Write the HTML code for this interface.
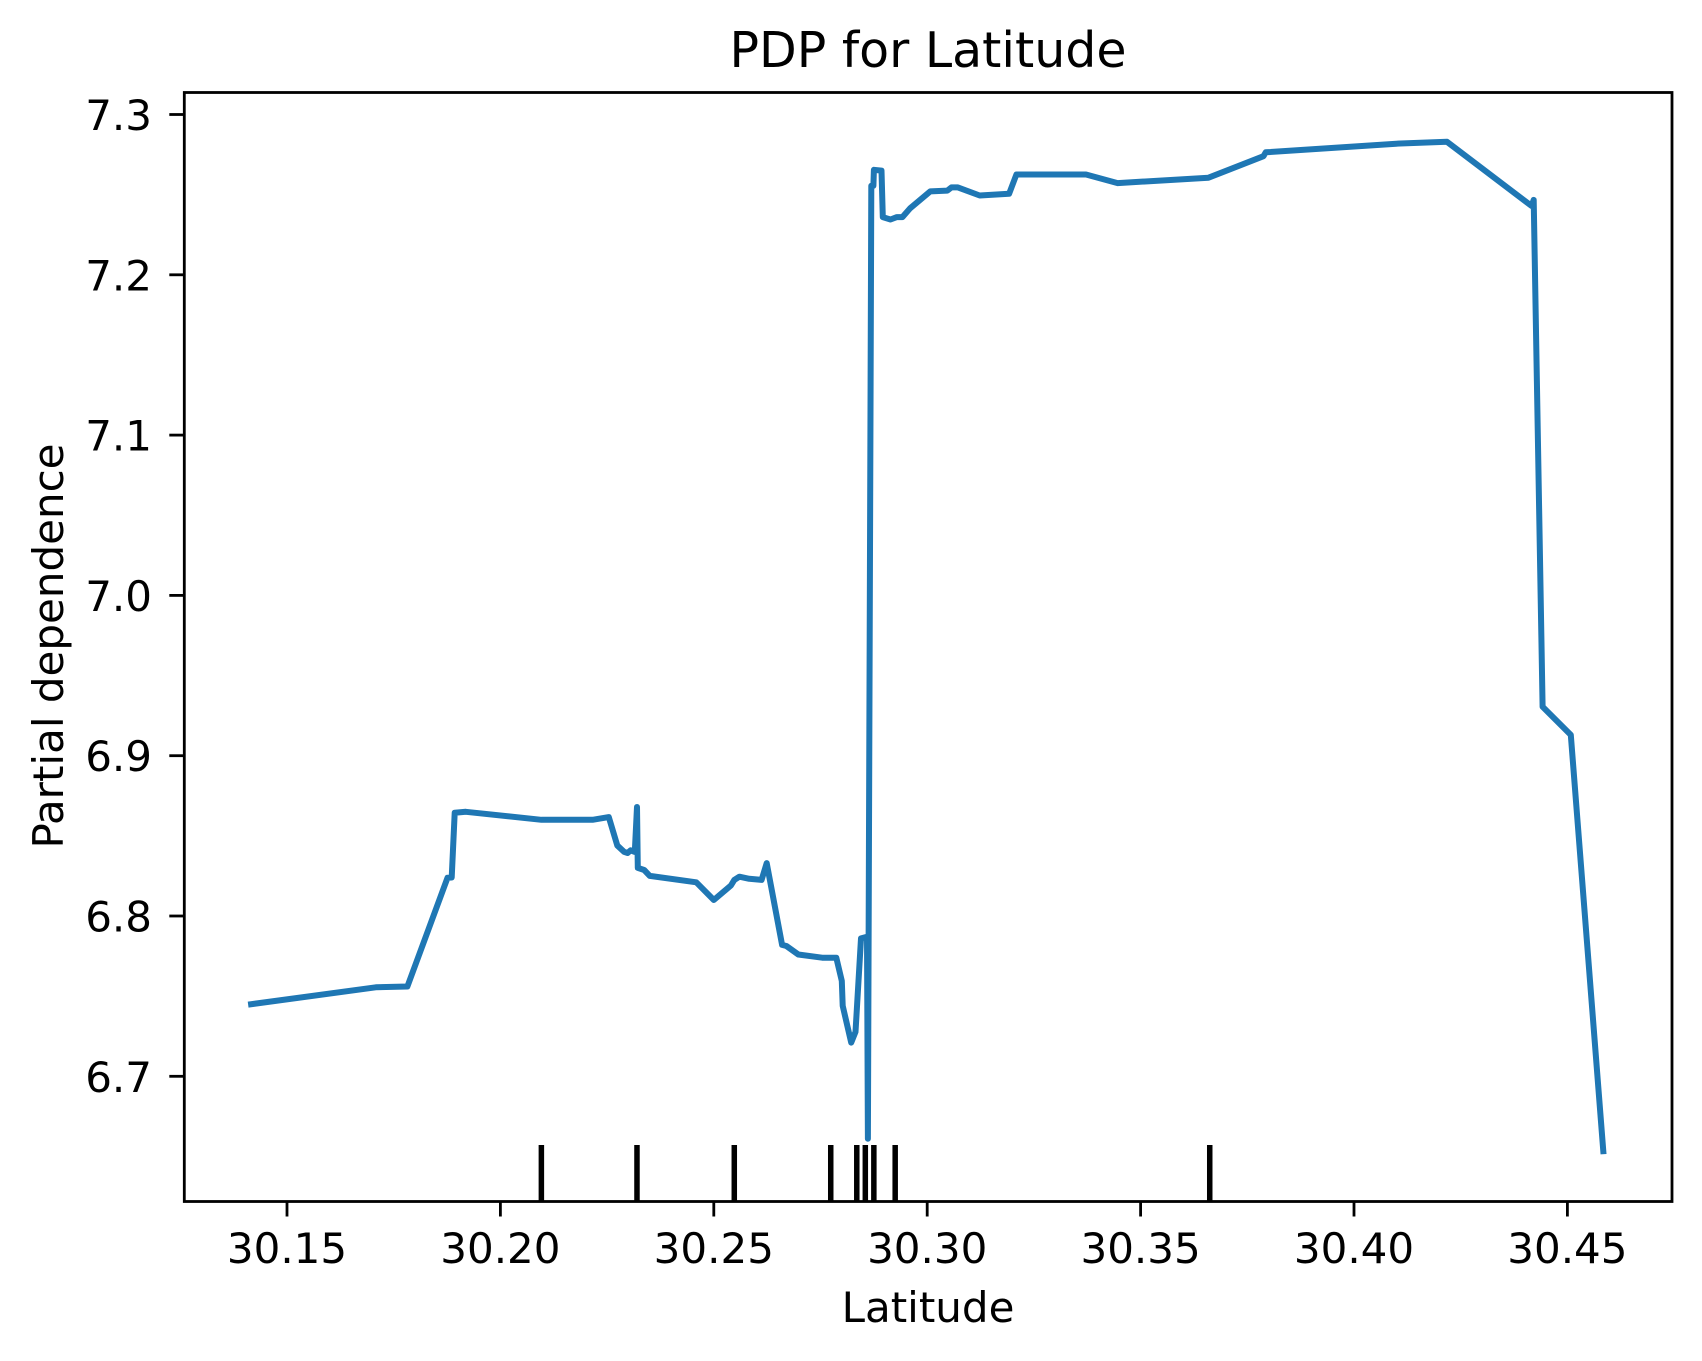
<!DOCTYPE html>
<html><head><meta charset="utf-8"><style>
html,body{margin:0;padding:0;background:#fff;}
svg{display:block;font-family:"DejaVu Sans","Liberation Sans",sans-serif;}
</style></head><body>
<svg id="chart" width="1702" height="1361" viewBox="0 0 1702 1361" xmlns="http://www.w3.org/2000/svg">
<rect width="1702" height="1361" fill="#fff"/>
<text x="928" y="67" font-size="49" text-anchor="middle">PDP for Latitude</text>
<text x="928" y="1322" font-size="42" text-anchor="middle">Latitude</text>
<text transform="translate(63,646) rotate(-90)" font-size="42" text-anchor="middle">Partial dependence</text>
<g id="plot"></g>
</svg>
<script>
const xs = [30.1416,30.1708,30.1782,30.1876,30.1886,30.1893,30.1919,30.2096,30.2216,30.2254,30.2274,30.229,30.2298,30.2305,30.2315,30.232,30.2322,30.2337,30.235,30.2459,30.25,30.254,30.2548,30.256,30.2583,30.2612,30.2624,30.266,30.267,30.2698,30.2754,30.2787,30.28,30.2802,30.2822,30.2832,30.2845,30.2859,30.2861,30.2869,30.2874,30.2875,30.2893,30.2896,30.2914,30.2929,30.2942,30.296,30.3007,30.3047,30.3057,30.3072,30.3123,30.3192,30.3209,30.3372,30.3446,30.3659,30.3788,30.3793,30.4099,30.4218,30.4416,30.4421,30.4442,30.4508,30.4584];
const ys = [6.745,6.7555,6.756,6.8238,6.824,6.8644,6.865,6.860,6.860,6.8617,6.844,6.840,6.8393,6.841,6.840,6.868,6.830,6.8287,6.825,6.821,6.81,6.819,6.8225,6.8245,6.8232,6.8225,6.833,6.782,6.7813,6.776,6.774,6.774,6.7595,6.744,6.721,6.7277,6.786,6.787,6.661,7.2555,7.2555,7.2655,7.265,7.236,7.2345,7.236,7.236,7.2415,7.252,7.2525,7.2545,7.2545,7.2495,7.2505,7.2626,7.2626,7.2572,7.2606,7.274,7.2764,7.2818,7.283,7.243,7.2467,6.9305,6.913,6.6533];
const rug = [30.2096,30.232,30.2548,30.2774,30.2835,30.2855,30.2875,30.2925,30.3662];
const xTicks = [30.15,30.20,30.25,30.30,30.35,30.40,30.45];
const xTickLabels = ["30.15","30.20","30.25","30.30","30.35","30.40","30.45"];
const yTicks = [6.7,6.8,6.9,7.0,7.1,7.2,7.3];
const yTickLabels = ["6.7","6.8","6.9","7.0","7.1","7.2","7.3"];

const L=184.3,R=1672,T=92.5,B=1201.5;
function X(v){return 287+(v-30.15)/0.05*213.4;}
function Y(v){return 114.5+(7.3-v)/0.1*160.3;}
const NS="http://www.w3.org/2000/svg";
const g=document.getElementById('plot');
function mk(tag,attrs){const e=document.createElementNS(NS,tag);for(const k in attrs)e.setAttribute(k,attrs[k]);g.appendChild(e);return e;}

rug.forEach(function(v){
  const e=mk('line',{x1:X(v),x2:X(v),y1:1145,y2:B,stroke:'#000','stroke-width':5.5});
  
  
});
let d='';
xs.forEach(function(v,i){d+=(i?'L':'M')+X(v).toFixed(1)+','+Y(ys[i]).toFixed(1);});
const p=mk('path',{d:d,fill:'none',stroke:'#1f77b4','stroke-width':6,'stroke-linejoin':'round','stroke-linecap':'square'});



const fr=mk('rect',{x:L,y:T,width:R-L,height:B-T,fill:'none',stroke:'#000','stroke-width':2.8});



xTicks.forEach(function(v,i){
  const t=mk('line',{x1:X(v),x2:X(v),y1:B,y2:B+15,stroke:'#000','stroke-width':2.8});
  
  
  const tx=mk('text',{x:X(v),y:1263,'font-size':42,'text-anchor':'middle'});
  tx.textContent=xTickLabels[i];
  
  
});
yTicks.forEach(function(v,i){
  const t=mk('line',{x1:L-15,x2:L,y1:Y(v),y2:Y(v),stroke:'#000','stroke-width':2.8});
  
  
  const tx=mk('text',{x:152,y:Y(v)+15.5,'font-size':42,'text-anchor':'end'});
  tx.textContent=yTickLabels[i];
  
  
});
</script>
</body></html>
